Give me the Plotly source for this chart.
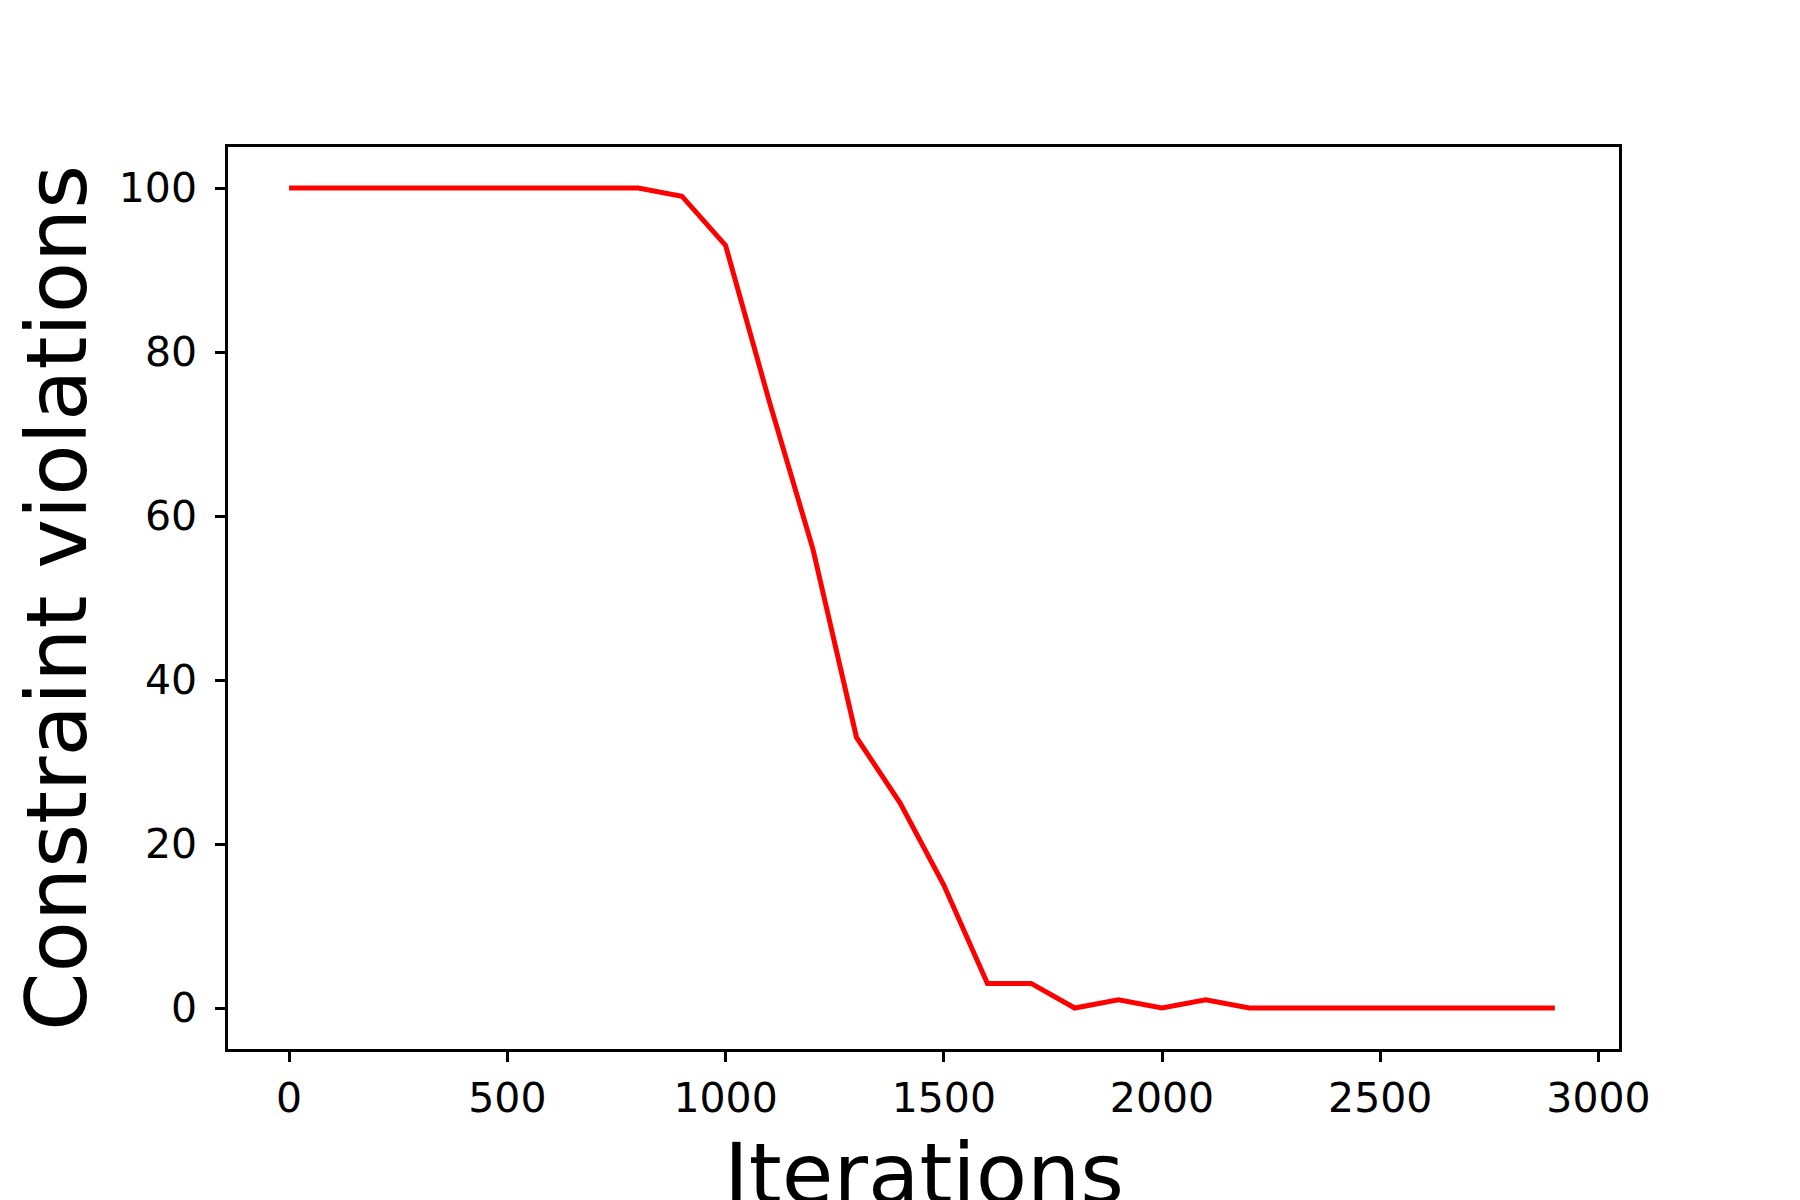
import plotly.graph_objects as go

iterations = list(range(0, 3000, 100))
violations = [100, 100, 100, 100, 100, 100, 100, 100, 100, 99,
              93, 74, 56, 33, 25, 15, 3, 3, 0, 1,
              0, 1, 0, 0, 0, 0, 0, 0, 0, 0]

x_ticks = [0, 500, 1000, 1500, 2000, 2500, 3000]
y_ticks = [0, 20, 40, 60, 80, 100]

fig = go.Figure()
fig.add_trace(go.Scatter(x=iterations, y=violations, mode='lines',
                         line=dict(color='#ff0000', width=5), showlegend=False))

axis_style = dict(
    showgrid=False, zeroline=False, showline=True, linecolor='black',
    linewidth=2.5, mirror=True, ticks='outside', ticklen=10, tickwidth=2.5,
    tickcolor='black', tickfont=dict(family='DejaVu Sans', size=41, color='black'),
)

fig.update_layout(
    width=1800, height=1200,
    margin=dict(l=220, r=189, t=139, b=159),
    plot_bgcolor='white', paper_bgcolor='white',
    font=dict(family='DejaVu Sans', color='black'),
    xaxis=dict(range=[-140, 3047], tickvals=x_ticks, ticklabelstandoff=1,
               **axis_style),
    yaxis=dict(range=[-5, 105], tickvals=y_ticks, ticklabelstandoff=10,
               title=dict(text='Constraint violations', font=dict(size=84), standoff=20),
               **axis_style),
)

# x title placed by hand so it sits low and runs off the bottom like the original
fig.add_annotation(text='Iterations', xref='paper', yref='paper', x=0.5, y=-0.082,
                   xanchor='center', yanchor='top', showarrow=False,
                   font=dict(family='DejaVu Sans', size=84, color='black'))

fig.write_html("out.html")
